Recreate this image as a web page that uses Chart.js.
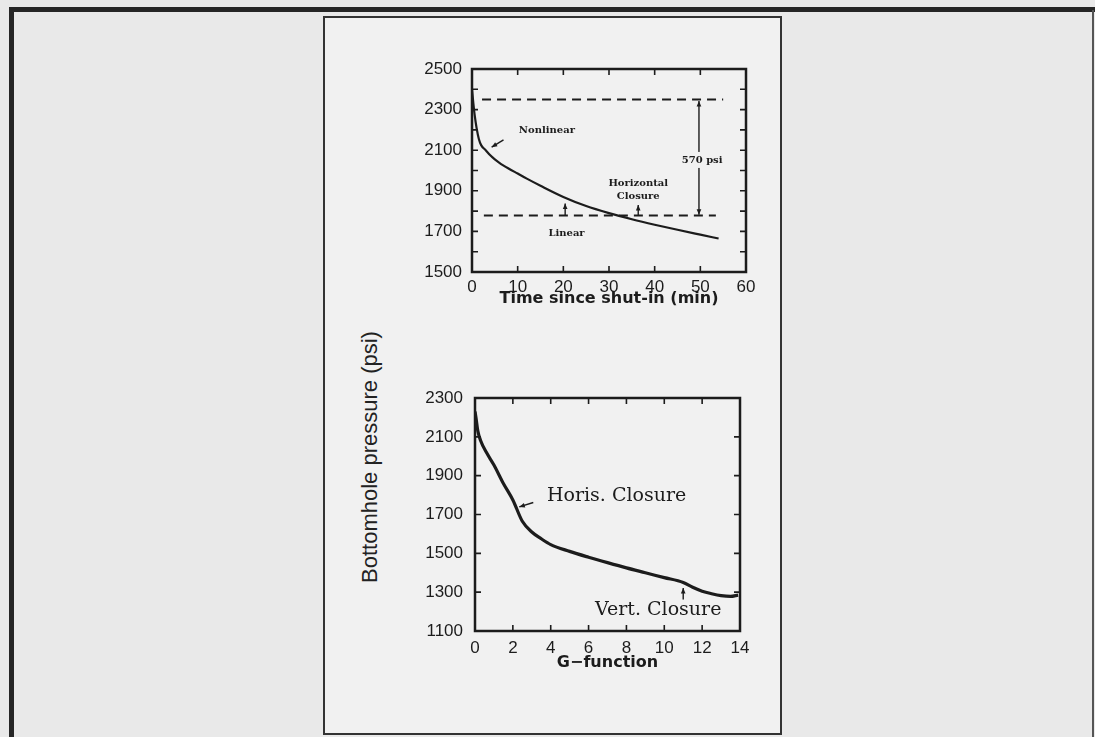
<!DOCTYPE html>
<html>
<head>
<meta charset="utf-8">
<script src="https://cdn.jsdelivr.net/npm/chart.js@4.4.1/dist/chart.umd.min.js"></script>
<style>
  html, body { margin: 0; padding: 0; }
  body {
    width: 1095px; height: 737px; position: relative; overflow: hidden;
    background: #e9e9e9; font-family: "Liberation Sans", Arial, sans-serif;
  }
  .rule { position: absolute; background: #262626; }
  #panel {
    position: absolute; left: 323px; top: 16px; width: 455px; height: 715px;
    border: 2px solid #333; background: #f1f1f1;
  }
  #ytitle {
    position: absolute; left: 370px; top: 457px; white-space: nowrap;
    transform: translate(-50%, -50%) rotate(-90deg);
    font-size: 22px; color: #222;
  }
  .plot { position: absolute; }
</style>
</head>
<body>
<div class="rule" style="left:9px;top:7px;width:1086px;height:5px"></div>
<div class="rule" style="left:9px;top:7px;width:5px;height:730px"></div>
<div class="rule" style="left:1092px;top:10px;width:2px;height:727px;background:#555"></div>
<div id="panel"></div>
<div id="ytitle">Bottomhole pressure (psi)</div>
<div class="plot" style="left:330px;top:40px"><canvas id="timeChart" width="440" height="268"></canvas></div>
<div class="plot" style="left:330px;top:370px"><canvas id="gChart" width="440" height="302"></canvas></div>

<script>
// top plot: pressure vs time since shut-in
const shutInMinutes = [0, 0.3, 0.6, 1, 1.5, 2, 3, 4, 5, 6, 8, 10, 12, 15, 20, 25, 30, 35, 40, 45, 50, 54];
const shutInPressure = [2400, 2330, 2270, 2210, 2155, 2125, 2100, 2075, 2055, 2038, 2010, 1985, 1960, 1925, 1870, 1825, 1790, 1760, 1733, 1708, 1684, 1665];
const upperDashMinutes = [2.2, 55];
const upperDashPressure = [2350, 2350];
const lowerDashMinutes = [2.6, 53.4];
const lowerDashPressure = [1778, 1778];

// bottom plot: pressure vs G-function
const gValues = [0, 0.05, 0.15, 0.3, 0.6, 1, 1.5, 2, 2.5, 3, 3.5, 4, 5, 6, 7, 8, 9, 10, 11, 11.5, 12, 12.5, 13, 13.5, 13.9];
const gPressure = [2230, 2200, 2130, 2080, 2020, 1955, 1860, 1775, 1665, 1610, 1575, 1545, 1510, 1480, 1452, 1425, 1400, 1375, 1350, 1325, 1305, 1292, 1282, 1278, 1285];

// annotations, in data units
const timeNotes = [
  { text: 'Nonlinear', x: 16.4, y: 2197 },
  { text: 'Horizontal', x: 36.4, y: 1937 },
  { text: 'Closure', x: 36.4, y: 1871 },
  { text: 'Linear', x: 20.7, y: 1689 },
  { text: '570 psi', x: 50.4, y: 2052, boxed: true }
];
const timeArrows = [
  { from: [6.9, 2151], to: [4.3, 2115] },
  { from: [20.4, 1778], to: [20.4, 1838] },
  { from: [36.4, 1778], to: [36.4, 1830] },
  { from: [49.7, 1782], to: [49.7, 2342], both: true }
];
const gNotes = [
  { text: 'Horis. Closure', x: 7.48, y: 1793 },
  { text: 'Vert. Closure', x: 9.68, y: 1210 }
];
const gArrows = [
  { from: [3.08, 1762], to: [2.34, 1739] },
  { from: [11.0, 1262], to: [11.0, 1322] }
];

const INK = '#1c1c1c';
const PANEL_BG = '#f1f1f1';

function pairs(xs, ys) {
  return xs.map((x, i) => ({ x: x, y: ys[i] }));
}

function arrowHead(ctx, x0, y0, x1, y1, size) {
  const ang = Math.atan2(y1 - y0, x1 - x0);
  ctx.beginPath();
  ctx.moveTo(x1, y1);
  ctx.lineTo(x1 - size * Math.cos(ang - 0.4), y1 - size * Math.sin(ang - 0.4));
  ctx.lineTo(x1 - size * Math.cos(ang + 0.4), y1 - size * Math.sin(ang + 0.4));
  ctx.closePath();
  ctx.fill();
}

// box, inward ticks on all four sides, and the text notes
const framePlugin = {
  id: 'frame',
  afterDatasetsDraw(chart, args, opts) {
    const { ctx, chartArea: a } = chart;
    const xs = chart.scales.x, ys = chart.scales.y;
    ctx.save();
    ctx.strokeStyle = INK;
    ctx.fillStyle = INK;
    ctx.lineWidth = 2.5;
    ctx.strokeRect(a.left, a.top, a.right - a.left, a.bottom - a.top);

    ctx.lineWidth = 1.6;
    const len = 6;
    ctx.beginPath();
    xs.ticks.forEach(t => {
      const px = xs.getPixelForValue(t.value);
      ctx.moveTo(px, a.bottom); ctx.lineTo(px, a.bottom - len);
      ctx.moveTo(px, a.top); ctx.lineTo(px, a.top + len);
    });
    ys.ticks.forEach(t => {
      const py = ys.getPixelForValue(t.value);
      ctx.moveTo(a.left, py); ctx.lineTo(a.left + len, py);
      ctx.moveTo(a.right, py); ctx.lineTo(a.right - len, py);
    });
    ctx.stroke();

    (opts.arrows || []).forEach(ar => {
      const x0 = xs.getPixelForValue(ar.from[0]), y0 = ys.getPixelForValue(ar.from[1]);
      const x1 = xs.getPixelForValue(ar.to[0]), y1 = ys.getPixelForValue(ar.to[1]);
      ctx.lineWidth = 1.4;
      ctx.beginPath(); ctx.moveTo(x0, y0); ctx.lineTo(x1, y1); ctx.stroke();
      arrowHead(ctx, x0, y0, x1, y1, 6);
      if (ar.both) arrowHead(ctx, x1, y1, x0, y0, 6);
    });

    ctx.font = opts.font;
    ctx.textAlign = 'center';
    ctx.textBaseline = 'middle';
    (opts.notes || []).forEach(n => {
      const px = xs.getPixelForValue(n.x), py = ys.getPixelForValue(n.y);
      if (n.boxed) {
        const w = ctx.measureText(n.text).width + 4;
        ctx.fillStyle = PANEL_BG;
        ctx.fillRect(px - w / 2, py - 8, w, 16);
        ctx.fillStyle = INK;
      }
      ctx.fillText(n.text, px, py);
    });
    ctx.restore();
  }
};

const tickFont = { family: '"Liberation Sans", Arial, sans-serif', size: 17 };
const titleFont = { family: '"DejaVu Sans", sans-serif', size: 16, weight: 'bold', lineHeight: 1.2 };

function makeChart(id, cfg) {
  return new Chart(document.getElementById(id), {
    type: 'line',
    data: { datasets: cfg.datasets },
    options: {
      responsive: false,
      animation: false,
      events: [],
      layout: { padding: cfg.padding },
      plugins: {
        legend: { display: false },
        tooltip: { enabled: false },
        frame: { notes: cfg.notes, arrows: cfg.arrows, font: cfg.noteFont }
      },
      elements: { point: { radius: 0 } },
      scales: {
        x: {
          type: 'linear', min: cfg.xMin, max: cfg.xMax,
          grid: { display: false, drawTicks: false },
          border: { display: false },
          ticks: { stepSize: cfg.xStep, padding: cfg.xPad, color: INK, font: tickFont, autoSkip: false, maxRotation: 0 },
          title: { display: true, text: cfg.xTitle, color: INK, font: titleFont, padding: 0 },
          afterFit: s => { s.height = cfg.xHeight; }
        },
        y: {
          type: 'linear', min: cfg.yMin, max: cfg.yMax,
          grid: { display: false, drawTicks: false },
          border: { display: false },
          ticks: {
            stepSize: cfg.yStep, padding: cfg.yPad, color: INK, font: tickFont, autoSkip: false,
            callback: v => ((v - cfg.yMin) % 200 === 0 ? String(v) : '')
          },
          afterFit: s => { s.width = cfg.yWidth; }
        }
      }
    },
    plugins: [framePlugin]
  });
}

makeChart('timeChart', {
  datasets: [
    { data: pairs(shutInMinutes, shutInPressure), borderColor: INK, borderWidth: 2.2, cubicInterpolationMode: 'monotone' },
    { data: pairs(upperDashMinutes, upperDashPressure), borderColor: INK, borderWidth: 2, borderDash: [9, 6] },
    { data: pairs(lowerDashMinutes, lowerDashPressure), borderColor: INK, borderWidth: 2, borderDash: [9, 6] }
  ],
  padding: { top: 29, right: 24, left: 0, bottom: 0 },
  xMin: 0, xMax: 60, xStep: 10, xPad: 5, xHeight: 36, xTitle: 'Time since shut-in (min)',
  yMin: 1500, yMax: 2500, yStep: 100, yPad: 10, yWidth: 142,
  notes: timeNotes, arrows: timeArrows, noteFont: 'bold 10px "DejaVu Serif", serif'
});

makeChart('gChart', {
  datasets: [
    { data: pairs(gValues, gPressure), borderColor: INK, borderWidth: 3.2, cubicInterpolationMode: 'monotone' }
  ],
  padding: { top: 28, right: 30, left: 0, bottom: 0 },
  xMin: 0, xMax: 14, xStep: 2, xPad: 7, xHeight: 41, xTitle: 'G\u2212function',
  yMin: 1100, yMax: 2300, yStep: 200, yPad: 12, yWidth: 145,
  notes: gNotes, arrows: gArrows, noteFont: '19px "DejaVu Serif", serif'
});
</script>
</body>
</html>
